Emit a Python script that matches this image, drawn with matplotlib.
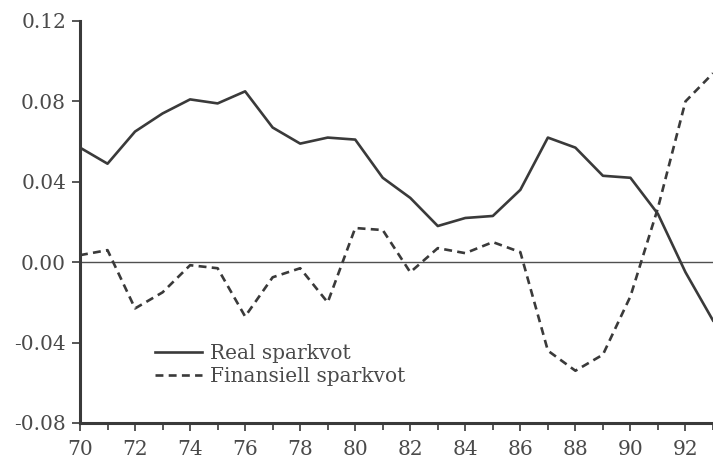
# Real och finansiell sparkvot 1970-1993

import matplotlib
matplotlib.use("Agg")
import matplotlib.pyplot as plt
from matplotlib.ticker import MultipleLocator, FormatStrFormatter

AR = list(range(70, 94))

REAL_SPARKVOT = [
    0.057, 0.049, 0.065, 0.074, 0.081, 0.079, 0.085, 0.067,
    0.059, 0.062, 0.061, 0.042, 0.032, 0.018, 0.022, 0.023,
    0.036, 0.062, 0.057, 0.043, 0.042, 0.024, -0.005, -0.029,
]

FINANSIELL_SPARKVOT = [
    0.0035, 0.006, -0.023, -0.015, -0.0015, -0.003, -0.027, -0.0075,
    -0.003, -0.020, 0.017, 0.016, -0.005, 0.007, 0.0045, 0.010,
    0.005, -0.044, -0.054, -0.046, -0.017, 0.027, 0.080, 0.094,
]

Y_TICKS = [-0.08, -0.04, 0.00, 0.04, 0.08, 0.12]
X_TICKS = list(range(70, 94, 2))

FARG = "#3a3a3a"
TEXTFARG = "#4a4a4a"

plt.rcParams["font.family"] = ["DejaVu Serif"]
plt.rcParams["font.size"] = 14.5
plt.rcParams["axes.unicode_minus"] = False

fig = plt.figure(figsize=(7.13, 4.59), dpi=100)
ax = fig.add_axes([80 / 713, 1 - 423 / 459, 1 - 80 / 713, (423 - 21) / 459])

ax.axhline(0, color="#505050", linewidth=1.0, zorder=1)
ax.plot(AR, REAL_SPARKVOT, color=FARG, linewidth=1.9, label="Real sparkvot")
ax.plot(AR, FINANSIELL_SPARKVOT, color=FARG, linewidth=1.9,
        linestyle=(0, (3, 2)), label="Finansiell sparkvot")

ax.set_xlim(70, 93)
ax.set_ylim(-0.08, 0.12)
ax.set_xticks(X_TICKS)
ax.xaxis.set_minor_locator(MultipleLocator(1))
ax.set_yticks(Y_TICKS)
ax.yaxis.set_major_formatter(FormatStrFormatter("%.2f"))

for sida in ["top", "right"]:
    ax.spines[sida].set_visible(False)
for sida in ["left", "bottom"]:
    ax.spines[sida].set_linewidth(2.2)
    ax.spines[sida].set_color(FARG)

ax.tick_params(axis="both", which="both", direction="out", length=6,
               width=1.2, color=FARG, labelcolor=TEXTFARG)
ax.tick_params(axis="x", which="minor", length=5)
ax.tick_params(axis="x", pad=6)
ax.tick_params(axis="y", pad=4)

leg = ax.legend(loc="center left", bbox_to_anchor=(155 / 713, 1 - 365 / 459),
                bbox_transform=fig.transFigure, frameon=False, borderpad=0,
                borderaxespad=0, handlelength=2.35, handletextpad=0.4,
                labelspacing=0.2)
for t in leg.get_texts():
    t.set_color(TEXTFARG)

fig.savefig("out.png", dpi=100)
